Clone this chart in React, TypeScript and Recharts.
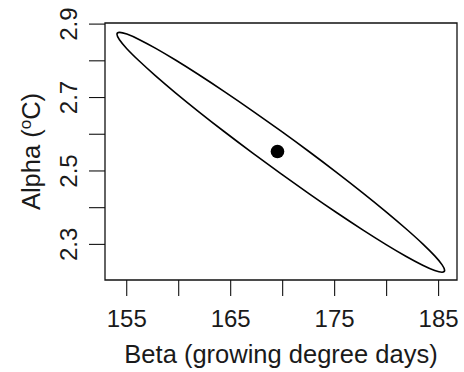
import React from "react";
import {
  ComposedChart,
  Line,
  Scatter,
  XAxis,
  YAxis,
  ReferenceArea,
} from "recharts";

// Confidence ellipse outline (Beta, Alpha)
const ellipseBeta = [
  169.82, 167.09, 164.43, 161.94, 159.69, 157.75, 156.18, 155.01, 154.3, 154.06,
  154.3, 155.01, 156.18, 157.75, 159.69, 161.94, 164.43, 167.09, 169.82, 172.56,
  175.21, 177.7, 179.95, 181.89, 183.47, 184.63, 185.34, 185.58, 185.34, 184.63,
  183.47, 181.89, 179.95, 177.7, 175.21, 172.56, 169.82,
];
const ellipseAlpha = [
  2.4926, 2.5493, 2.6061, 2.6612, 2.7129, 2.7597, 2.8001, 2.833, 2.8573, 2.8723,
  2.8775, 2.8728, 2.8583, 2.8345, 2.8021, 2.762, 2.7155, 2.6639, 2.609, 2.5523,
  2.4955, 2.4404, 2.3887, 2.3419, 2.3015, 2.2686, 2.2443, 2.2293, 2.2241, 2.2288,
  2.2433, 2.2671, 2.2995, 2.3396, 2.3861, 2.4377, 2.4926,
];

// Point estimate
const pointBeta = [169.5];
const pointAlpha = [2.553];

// Axis ticks
const xTicks = [155, 160, 165, 170, 175, 180, 185];
const xTickLabels = ["155", "", "165", "", "175", "", "185"];
const yTicks = [2.3, 2.4, 2.5, 2.6, 2.7, 2.8, 2.9];
const yTickLabels = ["2.3", "", "2.5", "", "2.7", "", "2.9"];

const xDomain: [number, number] = [152.91, 186.77];
const yDomain: [number, number] = [2.203, 2.903];

const ellipseData = ellipseBeta.map((b, i) => ({ x: b, y: ellipseAlpha[i] }));
const pointData = pointBeta.map((b, i) => ({ x: b, y: pointAlpha[i] }));

const FONT = "'Liberation Sans', Arial, Helvetica, sans-serif";

const XTick = (props: any) => {
  const { x, y, payload } = props;
  const idx = xTicks.indexOf(payload.value);
  const label = idx >= 0 ? xTickLabels[idx] : "";
  if (!label) return null;
  return (
    <text x={x} y={y + 30.5} textAnchor="middle" fontSize={24} fill="#1a1a1a" fontFamily={FONT}>
      {label}
    </text>
  );
};

const YTick = (props: any) => {
  const { x, y, payload } = props;
  const idx = yTicks.findIndex((t) => Math.abs(t - payload.value) < 1e-6);
  const label = idx >= 0 ? yTickLabels[idx] : "";
  if (!label) return null;
  const tx = x - 12;
  return (
    <text
      x={tx}
      y={y}
      textAnchor="middle"
      fontSize={24}
      fill="#1a1a1a"
      fontFamily={FONT}
      transform={`rotate(-90, ${tx}, ${y})`}
    >
      {label}
    </text>
  );
};

const XTitle = (props: any) => {
  const vb = props.viewBox || {};
  const cx = vb.x + vb.width / 2;
  return (
    <text x={cx} y={362.5} textAnchor="middle" fontSize={25.5} fill="#1a1a1a" fontFamily={FONT}>
      Beta (growing degree days)
    </text>
  );
};

const YTitle = (props: any) => {
  const vb = props.viewBox || {};
  const cy = vb.y + vb.height / 2;
  const tx = 39.5;
  return (
    <text
      x={tx}
      y={cy}
      textAnchor="middle"
      fontSize={25.5}
      fill="#1a1a1a"
      fontFamily={FONT}
      transform={`rotate(-90, ${tx}, ${cy})`}
    >
      Alpha (
      <tspan dy={-9} fontSize={17}>o</tspan>
      <tspan dy={9}>C)</tspan>
    </text>
  );
};

const Dot = (props: any) => {
  const { cx, cy } = props;
  return <circle cx={cx} cy={cy} r={6.8} fill="#000" />;
};

export default function App() {
  return (
    <div style={{ position: "absolute", left: 0, top: 0, background: "#fff" }}>
      <ComposedChart
        width={464}
        height={372}
        margin={{ top: 23, right: 7, bottom: 32, left: 0 }}
      >
        <XAxis
          type="number"
          dataKey="x"
          domain={xDomain}
          allowDataOverflow
          ticks={xTicks}
          interval={0}
          tickSize={16}
          tickMargin={0}
          axisLine={false}
          tickLine={{ stroke: "#111", strokeWidth: 1.1 }}
          tick={<XTick />}
          height={60}
          label={<XTitle />}
        />
        <YAxis
          type="number"
          dataKey="y"
          domain={yDomain}
          allowDataOverflow
          ticks={yTicks}
          interval={0}
          tickSize={16}
          tickMargin={0}
          axisLine={false}
          tickLine={{ stroke: "#111", strokeWidth: 1.1 }}
          tick={<YTick />}
          width={105}
          label={<YTitle />}
        />
        <ReferenceArea
          x1={xDomain[0]}
          x2={xDomain[1]}
          y1={yDomain[0]}
          y2={yDomain[1]}
          fill="none"
          fillOpacity={0}
          stroke="#111"
          strokeWidth={1.3}
          ifOverflow="visible"
        />
        <Line
          data={ellipseData}
          dataKey="y"
          type="natural"
          stroke="#000"
          strokeWidth={1.6}
          dot={false}
          activeDot={false}
          isAnimationActive={false}
        />
        <Scatter data={pointData} dataKey="y" shape={<Dot />} isAnimationActive={false} />
      </ComposedChart>
    </div>
  );
}
